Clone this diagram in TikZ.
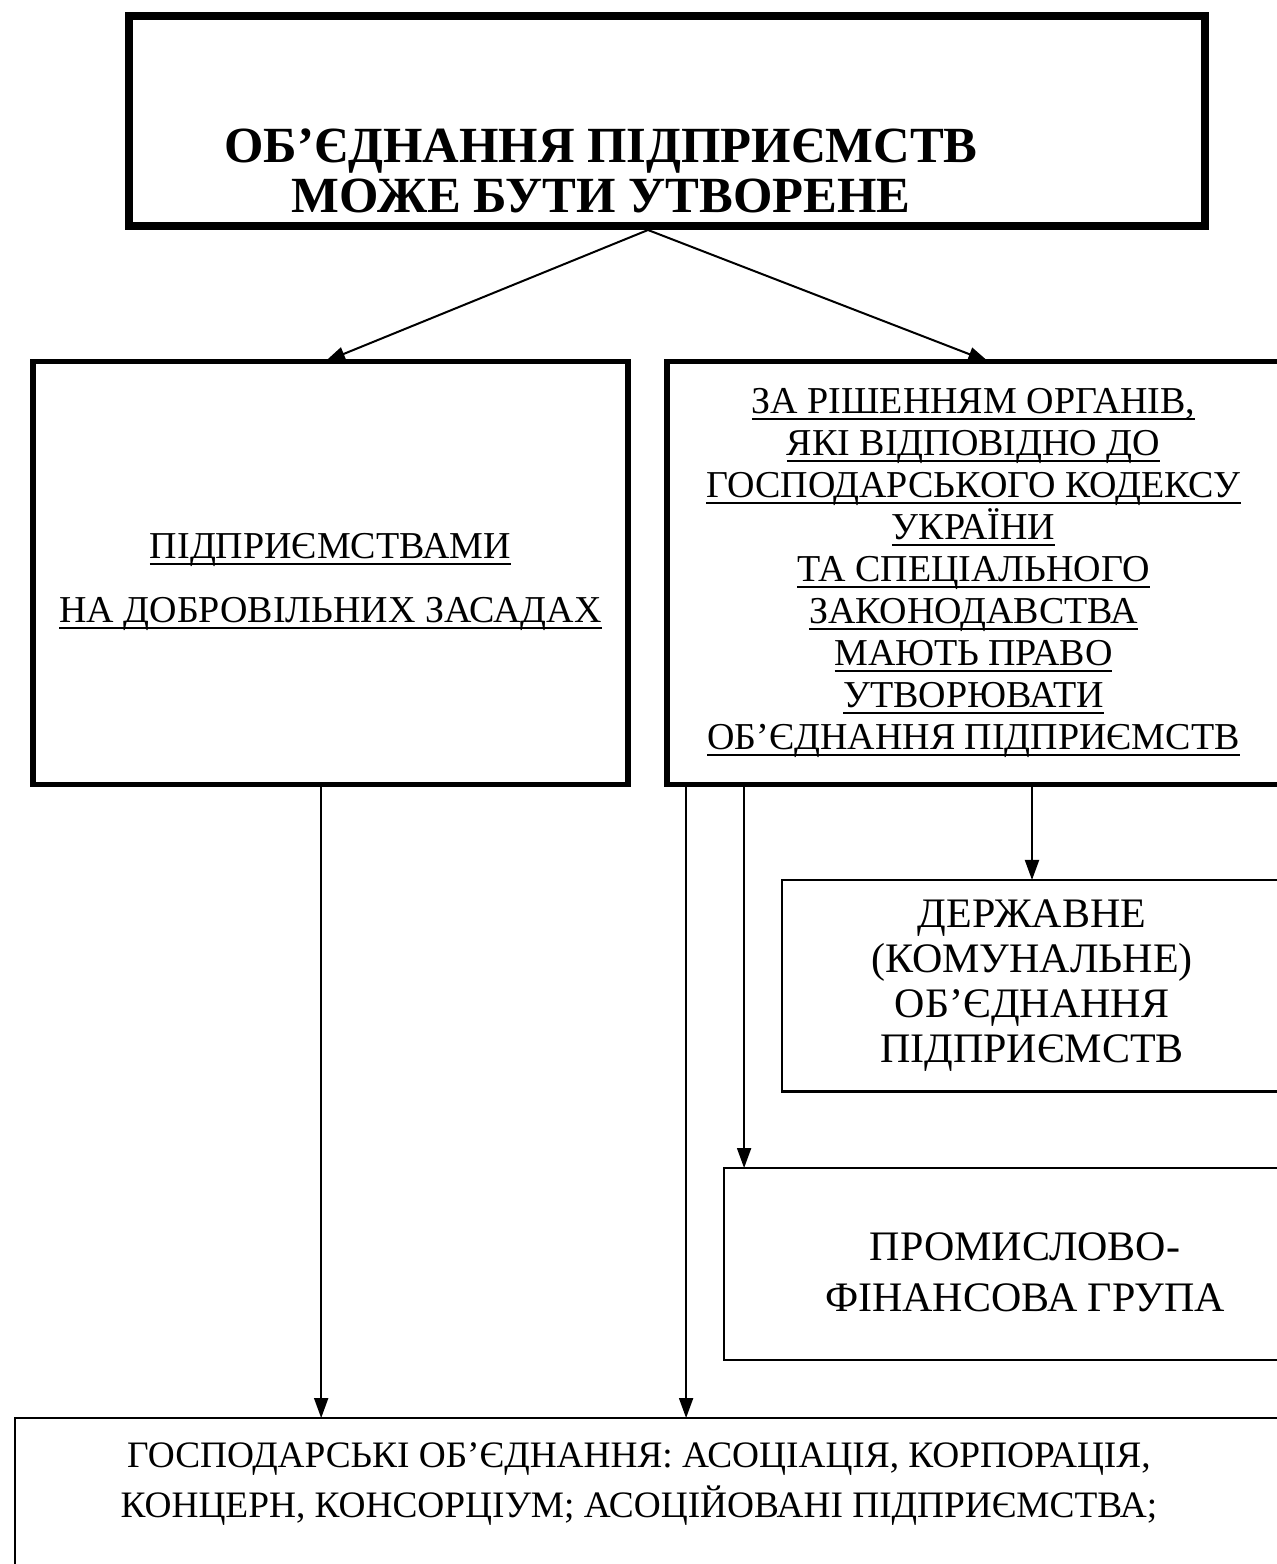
\documentclass[tikz,border=0pt]{standalone}
\usepackage{fontspec}
\setmainfont{Liberation Serif}
\usetikzlibrary{positioning, arrows.meta}
\newcommand{\undl}[1]{\leavevmode\setbox0=\hbox{#1}\rlap{\vrule height -3pt depth 4.5pt width \wd0}\box0}

\begin{document}
\begin{tikzpicture}[
        x=0.75pt, y=-0.75pt,
        every node/.style={inner sep=0pt, outer sep=0pt, align=center},
        mainfont/.style={font=\fontsize{28.5}{31.5}\selectfont},
        heavybox/.style={rectangle, draw, line width=4pt},
        thinbox/.style={rectangle, draw, line width=2.2pt},
        link/.style={-{Triangle[length=15pt, width=10.5pt]}, line width=1.5pt}
    ]
        \useasboundingbox (0,0) rectangle (1277,1564);
        \clip (0,0) rectangle (1277,1564);
        % Top box
        \node[rectangle, draw, line width=6pt, minimum width=806.6pt, minimum height=157.5pt] (top) at (667,121) {};
        \node[font=\bfseries\fontsize{38}{37}\selectfont] (title) at (601,171) {ОБ’ЄДНАННЯ ПІДПРИЄМСТВ\\МОЖЕ БУТИ УТВОРЕНЕ};
        % Second level
        \node[heavybox, minimum width=446.3pt, minimum height=317.3pt] (volunt) at (330.5,573) {};
        \node[font=\fontsize{28.5}{48}\selectfont] (volunttext) at (330.5,582)
            {\undl{ПІДПРИЄМСТВАМИ}\\\undl{НА ДОБРОВІЛЬНИХ ЗАСАДАХ}};
        \node[heavybox, mainfont, minimum width=459.8pt, minimum height=317.3pt, right=29.25pt of volunt] (organs)
            {\undl{ЗА РІШЕННЯМ ОРГАНІВ,}\\\undl{ЯКІ ВІДПОВІДНО ДО}\\\undl{ГОСПОДАРСЬКОГО КОДЕКСУ}\\\undl{УКРАЇНИ}\\\undl{ТА СПЕЦІАЛЬНОГО}\\\undl{ЗАКОНОДАВСТВА}\\\undl{МАЮТЬ ПРАВО}\\\undl{УТВОРЮВАТИ}\\\undl{ОБ’ЄДНАННЯ ПІДПРИЄМСТВ}};
        % Third level
        \node[thinbox, minimum width=375pt, minimum height=158.3pt, font=\fontsize{31.5}{33.75}\selectfont] (state) at (1032,985.5)
            {ДЕРЖАВНЕ\\(КОМУНАЛЬНЕ)\\ОБ’ЄДНАННЯ\\ПІДПРИЄМСТВ};
        \node[thinbox, minimum width=418.5pt, minimum height=144pt] (group) at (1003,1264) {};
        \node[font=\fontsize{31.5}{38}\selectfont] (grouptext) at (1025,1272) {ПРОМИСЛОВО-\\ФІНАНСОВА ГРУПА};
        % Bottom box
        \node[thinbox, minimum width=956.3pt, minimum height=136.5pt] (econ) at (652.5,1509) {};
        \node[font=\fontsize{28}{37.5}\selectfont] (econtext) at (639,1484)
            {ГОСПОДАРСЬКІ ОБ’ЄДНАННЯ: АСОЦІАЦІЯ, КОРПОРАЦІЯ,\\КОНЦЕРН, КОНСОРЦІУМ; АСОЦІЙОВАНІ ПІДПРИЄМСТВА;};
        % Connectors
        \coordinate (apex) at (648,230);
        \draw[link] (apex) -- ([xshift=-4pt]volunt.north);
        \draw[link] (apex) -- ([xshift=11pt]organs.north);
        \draw[link] ([xshift=-7pt]volunt.south) -- ([xshift=-7pt]volunt.south |- econ.north);
        \draw[link] ([xshift=-215.6pt]organs.south) -- ([xshift=-215.6pt]organs.south |- econ.north);
        \draw[link] ([xshift=-172.1pt]organs.south) -- ([xshift=-172.1pt]organs.south |- group.north);
        \draw[link] (organs.south -| state.north) -- (state.north);
    \end{tikzpicture}
\end{document}
